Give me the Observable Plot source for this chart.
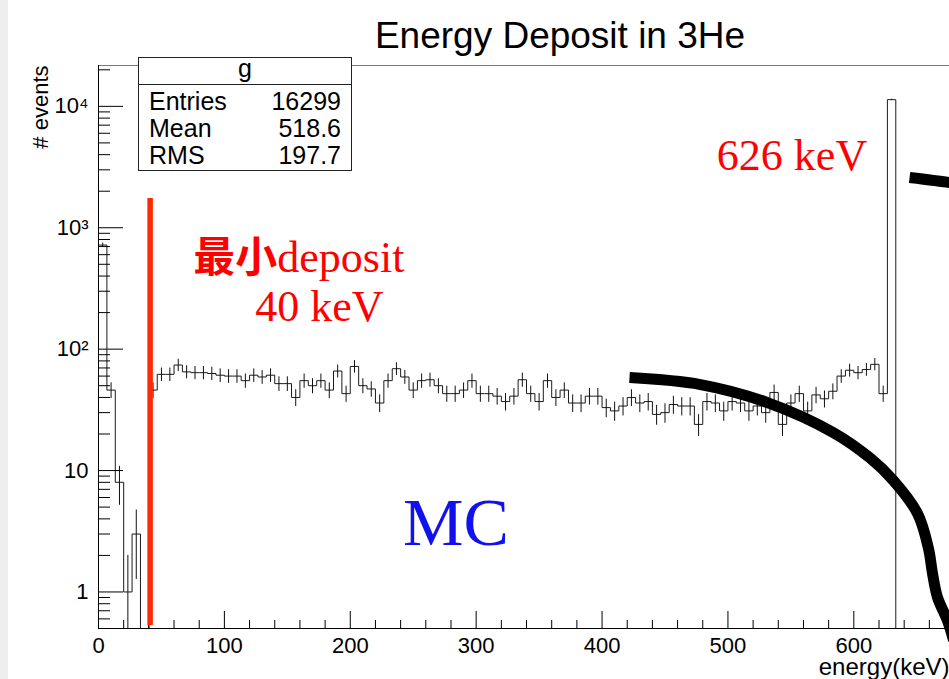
<!DOCTYPE html>
<html>
<head>
<meta charset="utf-8">
<script src="https://cdn.jsdelivr.net/npm/d3@7"></script>
<script src="https://cdn.jsdelivr.net/npm/@observablehq/plot@0.6"></script>
<style>
  html, body { margin: 0; padding: 0; background: #fff; overflow: hidden; }
  #wrap { position: relative; width: 949px; height: 679px; overflow: hidden; background: #fff;
          font-family: "Liberation Sans", Arial, sans-serif; }
  #strip { position: absolute; left: 0; top: 0; width: 8px; height: 679px; background: #eeeeee; }
  #chart { position: absolute; left: 0; top: 0; }
  #stats { position: absolute; left: 138px; top: 57px; width: 214px; height: 114px; box-sizing: border-box;
           border: 1px solid #222; background: #fff; font-size: 25px; color: #000; }
  #stats .head { height: 27px; line-height: 20px; text-align: center; border-bottom: 1px solid #222; box-sizing: border-box; }
  #stats .rows { padding: 3px 10px 0 10px; }
  #stats .row { display: flex; justify-content: space-between; height: 27px; line-height: 27px; }
</style>
</head>
<body>
<div id="wrap">
  <div id="strip"></div>
  <div id="chart"></div>
  <div id="stats"></div>
</div>
<script>
// ---------------- data ----------------
const histName = "g";
const statLabels = ["Entries", "Mean", "RMS"];
const statValues = ["16299", "518.6", "197.7"];

const nBins = 105;          // 0 – 700 keV, 6.67 keV per bin
const xMax = 700;
const counts = [
  720, 46, 8, 1, 3, 0,
  46, 62, 62, 74, 65, 64, 64, 63, 61, 60, 60, 55, 61, 59, 61, 52,
  52, 40, 55, 50, 55, 46, 66, 43, 72, 50, 47, 36, 55, 69, 59, 46, 55, 56,
  50, 43, 43, 46, 55, 43, 43, 41, 37, 41, 56, 43, 37, 55, 40, 46, 36, 36,
  41, 41, 33, 31, 34, 40, 36, 37, 29, 30, 35, 34, 34, 24, 37, 36, 31, 37,
  36, 31, 34, 30, 44, 24, 36, 43, 31, 42, 39, 45, 60, 67, 64, 68, 75, 43,
  11350, 0, 0, 0, 0, 0, 0, 0, 0, 0, 0
];

const xDomain = [0, 676];
const yDomain = [0.5, 21700];
const xMajor = [0, 100, 200, 300, 400, 500, 600];
const yMajor = [1, 10, 100, 1000, 10000];
const yTickLabels = ["1", "10", "10\u00B2", "10\u00B3", "10\u2074"];

const titleText = "Energy Deposit in 3He";
const xLabel = "energy(keV)";
const yLabel = "# events";

// annotation: 40 keV threshold line
const cutLine = [{x: 41, y1: 0.53, y2: 1740}];
// hand-drawn MC curves (energy keV, events)
const mcCurveLow = [
  {x: 421.8, y: 58.3}, {x: 478.2, y: 51.1}, {x: 531.4, y: 36.3}, {x: 583.9, y: 20.5},
  {x: 613.2, y: 12.6}, {x: 631.5, y: 8.27}, {x: 650.6, y: 4.43}, {x: 659.3, y: 2.28},
  {x: 662.5, y: 1.42}, {x: 666.5, y: 0.90}, {x: 674.4, y: 0.58}, {x: 679.2, y: 0.40}
];
const mcCurveHigh = [
  {x: 644.3, y: 2590}, {x: 676.0, y: 2355}, {x: 686.0, y: 2263}
];
const noteDeposit = [{x: 142, y: 428, text: "deposit"}];
const noteCJK = [{x: 142, y: 428, text: "最小"}];
const notesKeV = [
  {x: 175.4, y: 169, text: "40 keV"},
  {x: 550.9, y: 3013, text: "626 keV"}
];
const notesMC = [{x: 283.9, y: 2.42, text: "MC"}];

// ---------------- derived ----------------
const edges = d3.range(nBins + 1).map(i => i * xMax / nBins);
const stepPts = counts.map((c, i) => ({x: edges[i], y: Math.max(c, yDomain[0])}));
stepPts.push({x: edges[nBins], y: Math.max(counts[nBins - 1], yDomain[0])});
const errs = counts.map((c, i) => ({x: (edges[i] + edges[i + 1]) / 2, c})).filter(d => d.c > 0);

const yMinor = [];
for (const dec of [0.1, 1, 10, 100, 1000, 10000]) {
  for (let k = 2; k <= 9; k++) {
    const v = k * dec;
    if (v > yDomain[0] && v < yDomain[1]) yMinor.push(v);
  }
}
const xMinor = d3.range(20, xDomain[1], 20).filter(v => v % 100 !== 0);

const W = 949, H = 679, mL = 98, mR = 0, mT = 65, mB = 51;
const frameW = W - mL - mR, frameH = H - mT - mB;
const serif = "'Liberation Serif', 'Times New Roman', serif";

const plot = Plot.plot({
  width: W, height: H,
  marginLeft: mL, marginRight: mR, marginTop: mT, marginBottom: mB,
  x: {domain: xDomain, label: null},
  y: {type: "log", domain: yDomain, label: null},
  style: {fontFamily: "'Liberation Sans', Arial, sans-serif", fontSize: "22px", color: "#000", background: "transparent"},
  marks: [
    // frame line (top)
    Plot.ruleY([yDomain[1]], {stroke: "#777", strokeWidth: 1}),
    // histogram outline and error bars
    Plot.line(stepPts, {x: "x", y: "y", curve: "step-after", stroke: "#1a1a1a", strokeWidth: 1}),
    Plot.ruleX(errs, {x: "x", y1: d => Math.max(d.c - Math.sqrt(d.c), yDomain[0]), y2: d => d.c + Math.sqrt(d.c), stroke: "#111", strokeWidth: 1}),
    // ticks (inward)
    Plot.ruleY(yMajor, {y: d => d, insetRight: frameW - 25, stroke: "#000"}),
    Plot.ruleY(yMinor, {y: d => d, insetRight: frameW - 12, stroke: "#000"}),
    Plot.ruleX(xMajor, {x: d => d, insetTop: frameH - 17, stroke: "#000"}),
    Plot.ruleX(xMinor, {x: d => d, insetTop: frameH - 8, stroke: "#000"}),
    Plot.ruleX([xDomain[0]], {stroke: "#000"}),
    Plot.ruleY([yDomain[0]], {stroke: "#000"}),
    // tick labels
    Plot.axisX({ticks: xMajor, tickSize: 0, tickPadding: 9, tickFormat: d => String(d), label: null}),
    Plot.axisY({ticks: yMajor, tickSize: 0, tickPadding: 10, tickFormat: d => yTickLabels[yMajor.indexOf(d)], label: null}),
    // axis titles and chart title
    Plot.text([xLabel], {frameAnchor: "bottom-right", text: d => d, textAnchor: "end", lineAnchor: "bottom", dy: 46, fontSize: 24}),
    Plot.text([yLabel], {frameAnchor: "top-left", text: d => d, rotate: -90, textAnchor: "end", lineAnchor: "middle", dx: -58, fontSize: 22}),
    Plot.text([titleText], {frameAnchor: "top", text: d => d, lineAnchor: "bottom", dx: 36, dy: -18, fontSize: 37}),
    // annotations
    Plot.ruleX(cutLine, {x: "x", y1: "y1", y2: "y2", stroke: "#ff2a00", strokeWidth: 5.5}),
    Plot.line(mcCurveLow, {x: "x", y: "y", curve: "catmull-rom", stroke: "#000", strokeWidth: 11, strokeLinecap: "butt"}),
    Plot.line(mcCurveHigh, {x: "x", y: "y", curve: "catmull-rom", stroke: "#000", strokeWidth: 11, strokeLinecap: "butt"}),
    Plot.text(noteDeposit, {x: "x", y: "y", text: "text", textAnchor: "start", lineAnchor: "bottom",
      fill: "#ff0000", fontFamily: serif, fontSize: 44}),
    Plot.text(noteCJK, {x: "x", y: "y", text: "text", textAnchor: "end", lineAnchor: "bottom",
      fill: "#ff0000", fontFamily: "'Noto Sans CJK JP', 'Noto Sans CJK SC', sans-serif", fontWeight: 700, fontSize: 42}),
    Plot.text(notesKeV, {x: "x", y: "y", text: "text", textAnchor: "middle", lineAnchor: "bottom",
      fill: "#ff0000", fontFamily: serif, fontSize: 44}),
    Plot.text(notesMC, {x: "x", y: "y", text: "text", lineAnchor: "bottom",
      fill: "#1111ee", fontFamily: serif, fontSize: 68})
  ]
});
document.getElementById("chart").appendChild(plot);

// stats box
const stats = document.getElementById("stats");
const head = document.createElement("div");
head.className = "head";
head.textContent = histName;
stats.appendChild(head);
const rows = document.createElement("div");
rows.className = "rows";
statLabels.forEach((lab, i) => {
  const r = document.createElement("div");
  r.className = "row";
  const a = document.createElement("span"); a.textContent = lab;
  const b = document.createElement("span"); b.textContent = statValues[i];
  r.appendChild(a); r.appendChild(b);
  rows.appendChild(r);
});
stats.appendChild(rows);
</script>
</body>
</html>
